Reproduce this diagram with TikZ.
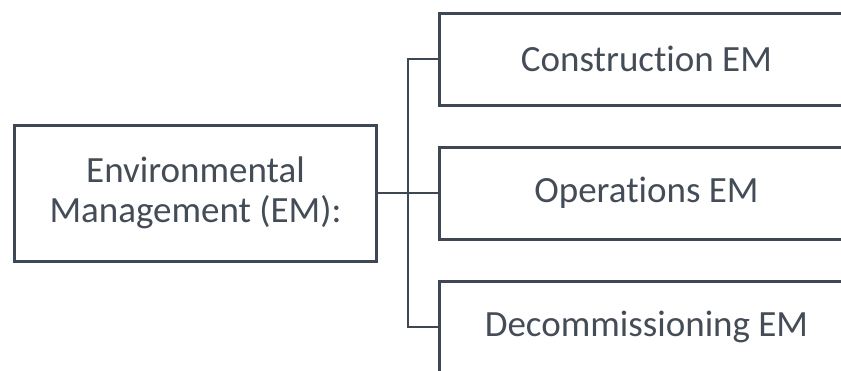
\documentclass[tikz,border=0pt]{standalone}
\usepackage{fontspec}
\setmainfont{Carlito}[Ligatures=NoCommon]
\usepackage{xcolor}
\usepackage{tikz}
\usetikzlibrary{calc}
\definecolor{frame}{HTML}{3E4855}
\definecolor{label}{HTML}{444C57}

\begin{document}
\begin{tikzpicture}[x=1pt, y=-1pt,
  box/.style={draw=frame, line width=3pt, inner sep=0pt, text=label,
    font=\fontsize{37}{40}\selectfont, align=center},
  phase/.style={box, minimum width=414pt, minimum height=92pt},
  link/.style={draw=frame, line width=2pt}]
\useasboundingbox (0,0) rectangle (841,370);
\clip (0,0) rectangle (841,370);
\node[box, minimum width=362pt, minimum height=136pt] (em) at (195.5,193)
  {Environmental\\Management (EM):};
\node[phase] (cons) at (646.5,59) {Construction EM};
\node[phase] (ops) at (646.5,193) {Operations EM};
\node[phase] (decom) at (646.5,327) {Decommissioning EM};
% tree connector
\coordinate (fork) at (408,193);
\draw[link] (em.east) -- (fork);
\draw[link] (cons.west) -| (fork) |- (decom.west);
\draw[link] (fork) -- (ops.west);
\end{tikzpicture}
\end{document}
